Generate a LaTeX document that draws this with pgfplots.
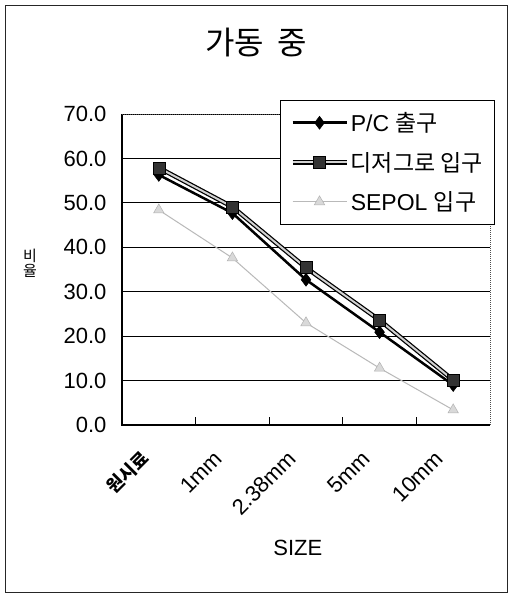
\documentclass[border=0pt]{standalone}
\usepackage{fontspec}
\setmainfont{Liberation Sans}
\newfontfamily\kr{Noto Sans CJK KR}
\usepackage{pgfplots}
\pgfplotsset{compat=1.18}
\newcommand{\fs}[1]{\fontsize{#1}{#1}\selectfont}
\begin{document}
\begin{tikzpicture}[x=1pt,y=1pt]
\fill[white] (0,0) rectangle (511,600);
\draw[black!85, line width=0.9pt] (5,8) rectangle (507,595);
\begin{axis}[
  at={(122pt,175pt)}, anchor=south west,
  scale only axis, width=368pt, height=311pt,
  xmin=-0.5, xmax=4.5, ymin=0, ymax=70,
  axis line style={draw=none},
  ytick={0,10,...,70},
  /pgf/number format/fixed,
  /pgf/number format/fixed zerofill,
  /pgf/number format/precision=1,
  /pgf/number format/assume math mode=true,
  yticklabel style={font=\fs{22pt}, xshift=-12pt},
  ymajorgrids, grid style={black, line width=0.8pt},
  xtick={0,1,2,3,4},
  xticklabels={{\kr\bfseries\fs{18pt}원시료},1mm,2.38mm,5mm,10mm},
  xticklabel style={xshift=-13pt, yshift=-29pt, rotate=45, anchor=east, inner sep=1pt, font=\fs{22pt}},
  major tick length=0pt,
  tick style={black, line width=1pt},
  xtick pos=bottom, ytick pos=left,
  extra x ticks={0.5,1.5,2.5,3.5},
  extra x tick labels={},
  extra x tick style={major tick length=8pt, tick align=inside, grid=none},
  xlabel={SIZE},
  xlabel style={at={(rel axis cs:0.478,-0.395)}, anchor=center, font=\fs{22pt}},
  title={\kr 가동\hspace{0.2em} 중},
  title style={at={(rel axis cs:0.365,1.21)}, anchor=center, font=\fs{32pt}},
  legend style={at={(rel axis cs:0.429,1.045)}, anchor=north west, draw=black, line width=0.8pt, fill=white, font=\fs{23pt}, row sep=15pt, inner xsep=10pt, inner ysep=10pt},
  legend cell align=left,
  legend image code/.code={\draw[mark repeat=2,mark phase=2] plot coordinates {(0pt,0pt) (27pt,0pt) (54pt,0pt)};},
  clip=false,
]
\addplot[black, line width=2.5pt, mark=diamond*, mark size=6.5pt, mark options={fill=black, line width=0.5pt}]
  coordinates {(0,56.3) (1,47.7) (2,32.7) (3,20.9) (4,9.0)};
\addlegendentry{P/C {\kr 출구}}
\addplot[draw=gray!35, line width=2pt, preaction={draw=black, line width=4.5pt}, mark=square*, mark size=6pt, mark options={fill=black!80, draw=black, line width=0.5pt}]
  coordinates {(0,57.9) (1,49.1) (2,35.4) (3,23.6) (4,10.1)};
\addlegendentry{{\kr 디저그로 입구}}
\addplot[gray!55, line width=1pt, mark=triangle*, mark size=6pt, mark options={fill=gray!30, draw=gray!60, line width=0.5pt}]
  coordinates {(0,48.4) (1,37.6) (2,23.0) (3,12.8) (4,3.4)};
\addlegendentry{SEPOL {\kr 입구}}
\draw[black, line width=1.3pt] (rel axis cs:0,1) -- (rel axis cs:0,0) -- (rel axis cs:1,0);
\draw[black!70, densely dotted, line width=1pt] (rel axis cs:0,1) -- (rel axis cs:1,1) -- (rel axis cs:1,0);
\node[font=\kr\fs{15pt}, align=center, inner sep=0pt] at (rel axis cs:-0.25,0.521) {비\\율};
\end{axis}
\pgfresetboundingbox
\path (0,0) rectangle (511,600);
\end{tikzpicture}
\end{document}
